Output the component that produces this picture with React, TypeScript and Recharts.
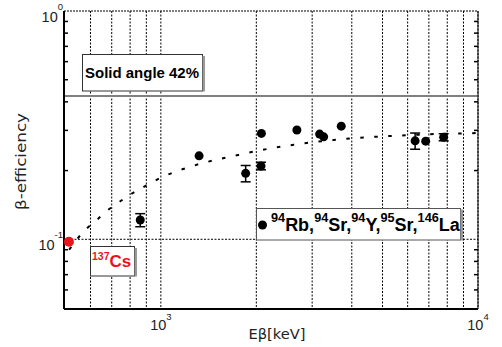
import React from 'react'
import {
  ComposedChart, Scatter, Line, XAxis, YAxis, CartesianGrid, ReferenceLine, ErrorBar, Legend
} from 'recharts'

// measured beta-efficiency points (E in keV)
const energies = [861, 1320, 1851, 2069, 2075, 2685, 3167, 3261, 3705, 6335, 6840, 7794]
const effs = [0.1215, 0.232, 0.1945, 0.2095, 0.291, 0.301, 0.289, 0.281, 0.313, 0.270, 0.269, 0.280]
const errs = [0.008, 0, 0.016, 0.008, 0, 0, 0, 0, 0, 0.022, 0, 0.01]

// 137Cs reference point
const csEnergy = [513]
const csEff = [0.0976]

// fitted curve
const fitE = [514, 547, 586, 630, 675, 731, 789, 859, 939, 1024, 1125, 1241, 1359, 1497, 1649, 1825, 2010, 2215, 2452, 2705, 2981, 3500, 4030, 4914, 6035, 7322, 8943, 10000]
const fitEff = [0.090, 0.101, 0.112, 0.122, 0.133, 0.144, 0.155, 0.166, 0.178, 0.189, 0.199, 0.208, 0.216, 0.223, 0.230, 0.237, 0.244, 0.250, 0.256, 0.261, 0.266, 0.272, 0.277, 0.282, 0.286, 0.289, 0.291, 0.292]

const xTicks = [600, 700, 800, 900, 1000, 2000, 3000, 4000, 5000, 6000, 7000, 8000, 9000, 10000]
const xLabels: Record<number, string> = { 1000: '3', 10000: '4' }
const yTicks = [0.06, 0.07, 0.08, 0.09, 0.1, 0.2, 0.3, 0.4, 0.5, 0.6, 0.7, 0.8, 0.9, 1]
const yLabels: Record<number, string> = { 1: '0', 0.1: '-1' }
const solidAngle = 0.424

const legendParts = [
  { sup: '94', main: 'Rb,' },
  { sup: '94', main: 'Sr,' },
  { sup: '94', main: 'Y,' },
  { sup: '95', main: 'Sr,' },
  { sup: '146', main: 'La' },
]

const tickFont = '"Liberation Sans", Arial, sans-serif'
const labelFont = '"DejaVu Sans", sans-serif'

const XTick = (props: any) => {
  const { x, y, payload } = props
  const exp = xLabels[payload.value]
  if (!exp) return <g />
  return (
    <text x={x} y={y + 21} textAnchor="middle" fontFamily={tickFont} fontSize={14.5} fill="#222">
      <tspan>10</tspan>
      <tspan fontSize={9.5} dy={-10}>{exp}</tspan>
    </text>
  )
}

const LeftTick = (props: any) => {
  const { x, y, payload } = props
  const exp = yLabels[payload.value]
  if (exp) {
    return (
      <text x={x - 1} y={y + 10.5} textAnchor="end" fontFamily={tickFont} fontSize={14.5} fill="#222">
        <tspan>10</tspan>
        <tspan fontSize={9.5} dy={-12}>{exp}</tspan>
      </text>
    )
  }
  return <line x1={x} x2={x + 4} y1={y} y2={y} stroke="#000" strokeWidth={1.5} />
}

const RightTick = (props: any) => {
  const { x, y, payload } = props
  if (yLabels[payload.value]) return <g />
  return <line x1={x - 4} x2={x} y1={y} y2={y} stroke="#000" strokeWidth={1.5} />
}

const renderLegend = () => (
  <svg width={210} height={36} style={{ display: 'block' }}>
    <rect x={0.5} y={0.5} width={204} height={31.5} fill="#fff" stroke="#555" />
    <rect x={204.5} y={1.5} width={2.5} height={31} fill="#999" />
    <circle cx={6.5} cy={17} r={4.5} fill="#000" />
    <text x={15} y={22.5} fontFamily={tickFont} fontWeight="bold" fill="#000">
      {legendParts.map((p, i) => (
        <React.Fragment key={i}>
          <tspan y={13.5} fontSize={12.7}>{p.sup}</tspan>
          <tspan y={22.5} fontSize={18}>{p.main}</tspan>
        </React.Fragment>
      ))}
    </text>
  </svg>
)

export default function App() {
  const points = energies.map((e, i) => ({ e, eff: effs[i], err: errs[i] }))
  const csData = csEnergy.map((e, i) => ({ e, eff: csEff[i] }))
  const fitData = fitE.map((e, i) => ({ e, eff: fitEff[i] }))

  return (
    <div style={{ position: 'absolute', left: 0, top: 0, width: 502, height: 347, background: '#fff' }}>
      <ComposedChart width={502} height={347} margin={{ top: 11, right: 0, bottom: 0, left: 0 }}>
        <CartesianGrid horizontal={false} stroke="#000" strokeDasharray="2 1.5" />
        <XAxis dataKey="e" type="number" scale="log" domain={[495, 10000]} allowDataOverflow
          ticks={xTicks} interval={0} tick={<XTick />} tickSize={0} tickMargin={0} tickLine={false}
          height={38} axisLine={{ stroke: '#000', strokeWidth: 2 }} />
        <YAxis dataKey="eff" type="number" scale="log" domain={[0.0495, 1]} allowDataOverflow
          ticks={yTicks} interval={0} tick={<LeftTick />} tickSize={0} tickMargin={0} tickLine={false}
          width={64} axisLine={{ stroke: '#000', strokeWidth: 2 }} />
        <YAxis yAxisId="r" orientation="right" type="number" scale="log" domain={[0.0495, 1]} allowDataOverflow
          ticks={yTicks} interval={0} tick={<RightTick />} tickSize={0} tickMargin={0} tickLine={false}
          width={24} axisLine={{ stroke: '#000', strokeWidth: 1 }} />
        <ReferenceLine y={1} stroke="#000" strokeDasharray="2 1" strokeWidth={1.2} />
        <ReferenceLine y={0.1} stroke="#000" strokeDasharray="2 1.5" />
        <ReferenceLine y={solidAngle} stroke="#808080" strokeWidth={2} />
        <Line data={fitData} dataKey="eff" type="monotone" stroke="#000" strokeWidth={2}
          strokeDasharray="3.5 10.5" dot={false} isAnimationActive={false} />
        <Scatter data={points} dataKey="eff" isAnimationActive={false}
          shape={(p: any) => <circle cx={p.cx} cy={p.cy} r={4.5} fill="#000" />}>
          <ErrorBar dataKey="err" direction="y" width={5} stroke="#000" strokeWidth={1.5} />
        </Scatter>
        <Scatter data={csData} dataKey="eff" isAnimationActive={false}
          shape={(p: any) => <circle cx={p.cx} cy={p.cy} r={5} fill="#e8141b" />} />
        <Legend layout="horizontal" verticalAlign="middle" align="center" content={renderLegend}
          wrapperStyle={{ position: 'absolute', left: 256, top: 208, width: 210, height: 36 }} />
      </ComposedChart>
      <svg width={502} height={347} style={{ position: 'absolute', left: 0, top: 0, pointerEvents: 'none' }}>
        <rect x={82.5} y={54.5} width={120} height={36.5} fill="#fff" stroke="#333" />
        <rect x={202.5} y={56} width={2.5} height={35.5} fill="#999" />
        <text x={85} y={78} fontFamily={tickFont} fontWeight="bold" fontSize={15} fill="#000"
          textLength={114} lengthAdjust="spacingAndGlyphs">Solid angle 42%</text>

        <rect x={90.5} y={246.5} width={44} height={29.5} fill="#fff" stroke="#333" />
        <rect x={134.5} y={248} width={2.5} height={28.5} fill="#999" />
        <text x={92} y={266.5} fontFamily={tickFont} fontWeight="bold" fill="#e8141b">
          <tspan y={259.5} fontSize={10.5}>137</tspan>
          <tspan y={266.5} fontSize={17}>Cs</tspan>
        </text>

        <text x={277} y={339} textAnchor="middle" fontFamily={labelFont} fontSize={14} fill="#222"
          textLength={57} lengthAdjust="spacingAndGlyphs">Eβ[keV]</text>
        <text x={26} y={161.5} textAnchor="middle" fontFamily={labelFont} fontSize={14} fill="#222"
          transform="rotate(-90 26 161.5)" textLength={97} lengthAdjust="spacingAndGlyphs">β-efficiency</text>
      </svg>
    </div>
  )
}
